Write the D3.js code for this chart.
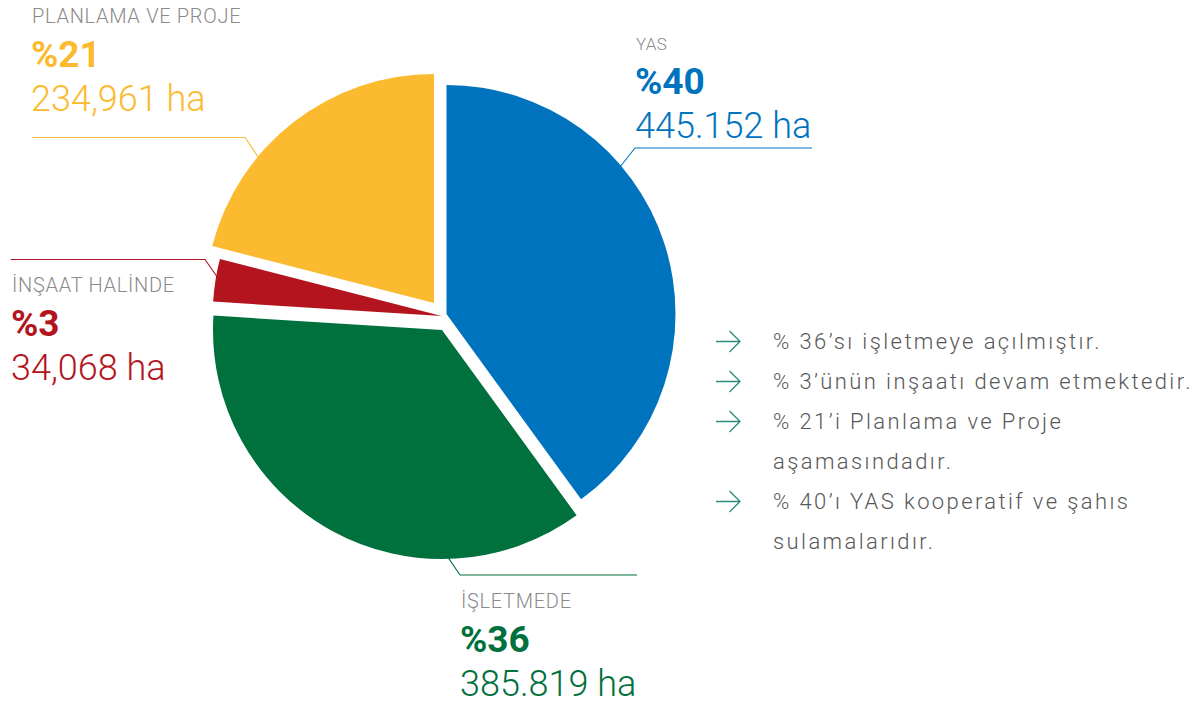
<!DOCTYPE html>
<html>
<head>
<meta charset="utf-8">
<script src="https://d3js.org/d3.v7.min.js"></script>
<style>
  body { margin: 0; background: #fff; }
  svg { display: block; font-family: Roboto, "DejaVu Sans", sans-serif; }
</style>
</head>
<body>
<div id="chart"></div>
<script>
// data
var categories = ["YAS", "İŞLETMEDE", "İNŞAAT HALİNDE", "PLANLAMA VE PROJE"];
var percents = [40, 36, 3, 21];
var areas = ["445.152 ha", "385.819 ha", "34,068 ha", "234,961 ha"];
var colors = ["#0073bf", "#00703c", "#b3141e", "#fbba30"];
var notes = [
  ["% 36’sı işletmeye açılmıştır."],
  ["% 3’ünün inşaatı devam etmektedir."],
  ["% 21’i Planlama ve Proje", "aşamasındadır."],
  ["% 40’ı YAS kooperatif ve şahıs", "sulamalarıdır."]
];

var w = 1204, h = 707;
var cx = 441, cy = 316, r = 229;

// how far each slice is pulled out of the centre
var shift = [[5.5, -2], [1, 14], [0.7, 0], [-7, -13]];

// label layout: angle where the leader touches the slice, elbow, line end, text x, first baseline
var labelPos = [
  { ang: 49.7,  elbow: [635, 148],   end: [812, 148],  tx: 636, ty: 50,  small: true },
  { ang: 178.4, elbow: [460, 575],   end: [637, 575],  tx: 461, ty: 608 },
  { ang: 279.9, elbow: [205, 259.5], end: [11, 259.5], tx: 12,  ty: 292 },
  { ang: 309.7, elbow: [245, 137.5], end: [32, 137.5], tx: 32,  ty: 23 }
];

var svg = d3.select("#chart").append("svg")
  .attr("width", w)
  .attr("height", h);

var pie = d3.pie().sort(null).value(function(d) { return d; });
var arc = d3.arc().innerRadius(0).outerRadius(r);
var arcs = pie(percents);

var g = svg.append("g").attr("transform", "translate(" + cx + "," + cy + ")");

g.selectAll("path.slice")
  .data(arcs)
  .enter()
  .append("path")
  .attr("class", "slice")
  .attr("d", arc)
  .attr("fill", function(d, i) { return colors[i]; })
  .attr("transform", function(d, i) {
    return "translate(" + shift[i][0] + "," + shift[i][1] + ")";
  });

// leader lines + labels
labelPos.forEach(function(p, i) {
  var a = p.ang * Math.PI / 180;
  var sx = cx + shift[i][0] + (r - 1) * Math.sin(a);
  var sy = cy + shift[i][1] - (r - 1) * Math.cos(a);
  svg.append("path")
    .attr("d", d3.line()([[sx, sy], p.elbow, p.end]))
    .attr("fill", "none")
    .attr("stroke", colors[i])
    .attr("stroke-width", 1.1);

  svg.append("text")
    .attr("x", p.tx)
    .attr("y", p.ty)
    .attr("font-size", p.small ? "17px" : "20px")
    .attr("font-weight", 300)
    .attr("letter-spacing", p.small ? 0.3 : 0.7)
    .attr("fill", "#8a8a8a")
    .text(categories[i]);

  svg.append("text")
    .attr("x", p.tx - 1)
    .attr("y", p.ty + 44)
    .attr("font-size", "37px")
    .attr("font-weight", 700)
    .attr("fill", colors[i])
    .text("%" + percents[i]);

  svg.append("text")
    .attr("x", p.tx - 1)
    .attr("y", p.ty + 88)
    .attr("font-size", "36px")
    .attr("font-weight", 300)
    .attr("fill", colors[i])
    .text(areas[i]);
});

// notes on the right
var lineY = 349, step = 40;
var notesG = svg.append("g");
notes.forEach(function(lines) {
  var ay = lineY - 7.5;
  notesG.append("path")
    .attr("d", "M716," + ay + "H740M729.5," + (ay - 10.5) + "L740," + ay + "L729.5," + (ay + 10.5))
    .attr("fill", "none")
    .attr("stroke", "#2b8a7c")
    .attr("stroke-width", 1.3);
  lines.forEach(function(t) {
    notesG.append("text")
      .attr("x", 773)
      .attr("y", lineY)
      .attr("font-size", "22px")
      .attr("font-weight", 300)
      .attr("letter-spacing", 2.4)
      .attr("fill", "#585858")
      .text(t);
    lineY += step;
  });
});
</script>
</body>
</html>
